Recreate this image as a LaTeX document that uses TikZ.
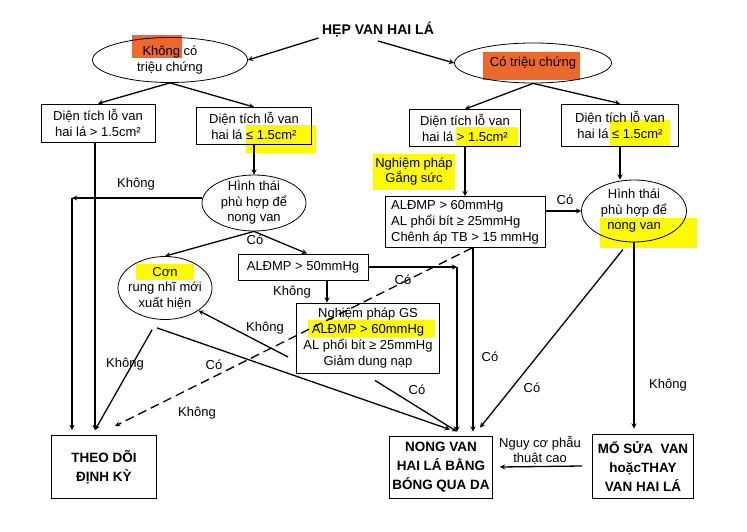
\documentclass[tikz,border=0pt]{standalone}
\usepackage{fontspec}
\setmainfont{Liberation Sans}
\usetikzlibrary{shapes.geometric,arrows,positioning,calc}

\definecolor{hlorange}{RGB}{236,104,44}
\definecolor{hlyellow}{RGB}{255,250,0}

\begin{document}
\begin{tikzpicture}[
    x=1pt, y=-1pt,
    block/.style={draw, rectangle, line width=0.9pt, align=center, inner sep=0pt, font=\fontsize{13}{16}\selectfont},
    final/.style={block, font=\fontsize{13.5}{19}\selectfont\bfseries},
    oval/.style={draw, ellipse, line width=0.8pt, align=center, inner sep=0pt, font=\fontsize{13}{15.5}\selectfont},
    edge/.style={-stealth, line width=1.3pt, draw=black},
    label/.style={font=\fontsize{13}{15}\selectfont},
    hlbox/.style={fill=hlyellow, draw=none},
]

\useasboundingbox (0,0) rectangle (747,532);

% Highlights
\fill[hlorange] (132,35) rectangle (182,58);
\fill[hlorange] (483,52) rectangle (580,80);
\fill[hlyellow] (246,125) rectangle (316,153);
\fill[hlyellow] (456,127) rectangle (518,146);
\fill[hlyellow] (610,120) rectangle (670,146);
\fill[hlyellow] (600,218) rectangle (697,248);
\fill[hlyellow] (136,264) rectangle (194,280);
\fill[hlyellow] (308,320) rectangle (435,337);

\node[font=\fontsize{14}{16}\selectfont\bfseries] (title) at (378,30) {HẸP VAN HAI LÁ};

% Symptoms
\node[oval, minimum width=155, minimum height=45] (nosym) at (170,60) {Không có\\triệu chứng};
\node[oval, minimum width=157, minimum height=40] (sym) at (533,63) {Có triệu chứng};

% Valve area
\node[block, minimum width=114, minimum height=38] (areaA) at (98,123) {Diện tích lỗ van\\hai lá > 1.5cm²};
\node[block, minimum width=115, minimum height=37] (areaB) at (254,126) {Diện tích lỗ van\\hai lá ≤ 1.5cm²};
\node[block, minimum width=111, minimum height=37] (areaC) at (465,128) {Diện tích lỗ van\\hai lá > 1.5cm²};
\node[block, minimum width=117, minimum height=42] (areaD) at (620,125) {Diện tích lỗ van\\hai lá ≤ 1.5cm²};

% Morphology
\node[oval, inner ysep=-4pt, minimum width=104, minimum height=56] (morphL) at (254,203) {Hình thái\\phù hợp để\\nong van};
\node[oval, inner ysep=-2pt, minimum width=105, minimum height=62] (morphR) at (634,211) {Hình thái\\phù hợp để\\nong van};
\node[oval, inner xsep=-6pt, inner ysep=-2pt, minimum width=94, minimum height=63] (afib) at (165,288) {Cơn\\rung nhĩ mới\\xuất hiện};

% Pressures
\node[block, minimum width=130, minimum height=26] (pa50) at (303,267) {ALĐMP > 50mmHg};
\node[block, minimum width=143, minimum height=70] (stress) at (368,338) {Nghiệm pháp GS\\ALĐMP > 60mmHg\\AL phổi bít ≥ 25mmHg\\Giảm dung nạp};
\node[block, align=left, minimum width=160, minimum height=51] (hemo) at (465,222) {ALĐMP > 60mmHg\\AL phổi bít ≥ 25mmHg\\Chênh áp TB > 15 mmHg};
\node[hlbox, label, align=center, inner sep=1pt, minimum width=82, minimum height=35] (stresslbl) at (414,172) {Nghiệm pháp\\Gắng sức};

% Outcomes
\node[final, minimum width=105, minimum height=63] (follow) at (104,467) {THEO DÕI\\ĐỊNH KỲ};
\node[final, minimum width=103, minimum height=62] (pbmv) at (441,467) {NONG VAN\\HAI LÁ BẰNG\\BÓNG QUA DA};
\node[final, minimum width=101, minimum height=64] (surg) at (643,466) {MỔ SỬA\ \ VAN\\hoặcTHAY\\VAN HAI LÁ};

\coordinate (kL) at (72,198);
\coordinate (c50) at (457,267);

\draw[edge] ([yshift=-8pt]title.west) -- (nosym.east);
\draw[edge] (title.south) -- (sym.west);
\draw[edge] (nosym.south) -- (areaA.north);
\draw[edge] (nosym.south) -- (areaB.north);
\draw[edge] (sym.south) -- (areaC.north);
\draw[edge] (sym.south) -- (areaD.north);

\draw[edge] (areaB.south) -- (morphL.north);
\draw[edge] (morphL.west |- kL) -- (kL);
\draw[edge] (kL) -- ([yshift=5pt]kL |- follow.north);
\draw[edge] ([xshift=-3pt]areaA.south) -- ([xshift=-3pt,yshift=5pt]areaA.south |- follow.north);
\draw[edge] (morphL.south) -- (afib.north);
\draw[edge] (morphL.south) -- ([xshift=4pt]pa50.north);
\draw[edge] (pa50.east) -- (c50);
\draw[edge] (c50) -- ([yshift=4pt]c50 |- pbmv.north);
\draw[edge] ([xshift=24pt]pa50.south) -- ([xshift=24pt]pa50.south |- stress.north);
\draw[edge] ([xshift=-8pt,yshift=-19pt]stress.west) -- (afib.south east);
\draw[edge] ([xshift=7pt,yshift=-7pt]stress.south) -- ([xshift=16pt,yshift=4pt]pbmv.north);
\draw[edge] ([xshift=-13pt,yshift=-10pt]afib.south) -- ([xshift=-9pt,yshift=5pt]follow.north);
\draw[edge] ([xshift=-8pt,yshift=-8pt]afib.south) -- ([xshift=9pt,yshift=6pt]pbmv.north);
\draw[edge, dash pattern=on 9pt off 5pt] ([xshift=7pt]hemo.south) -- ([xshift=11pt,yshift=9pt]follow.north);

\draw[edge] (areaC.south) -- (hemo.north);
\draw[edge] (hemo.east |- morphR.west) -- (morphR.west);
\draw[edge] ([xshift=8pt]hemo.south) -- ([xshift=8pt,yshift=4pt]hemo.south |- pbmv.north);
\draw[edge] (areaD.south) -- (areaD.south |- morphR.north);
\draw[edge] ([yshift=-8pt]morphR.250) -- ([xshift=39pt,yshift=8pt]pbmv.north);
\draw[edge] (morphR.south) -- ([yshift=5pt]morphR.south |- surg.north);
\draw[edge] ([xshift=-10pt]surg.west) -- ([xshift=7pt]pbmv.east);

% Labels
\node[label] (lKhong1) at (136,184) {Không};
\node[label] (lCo1) at (255,240) {Có};
\node[label] (lCo2) at (403,280) {Có};
\node[label] (lKhong2) at (292,292) {Không};
\node[label] (lKhong3) at (265,328) {Không};
\node[label] (lCo3) at (417,390) {Có};
\node[label] (lKhong4) at (125,364) {Không};
\node[label] (lCo4) at (214,365) {Có};
\node[label] (lKhong5) at (197,413) {Không};
\node[label] (lCo5) at (565,200) {Có};
\node[label] (lCo6) at (490,357) {Có};
\node[label] (lCo7) at (532,388) {Có};
\node[label] (lKhong6) at (668,385) {Không};
\node[label, align=center] (lRisk) at (540,450) {Nguy cơ phẫu\\thuật cao};

\end{tikzpicture}
\end{document}
